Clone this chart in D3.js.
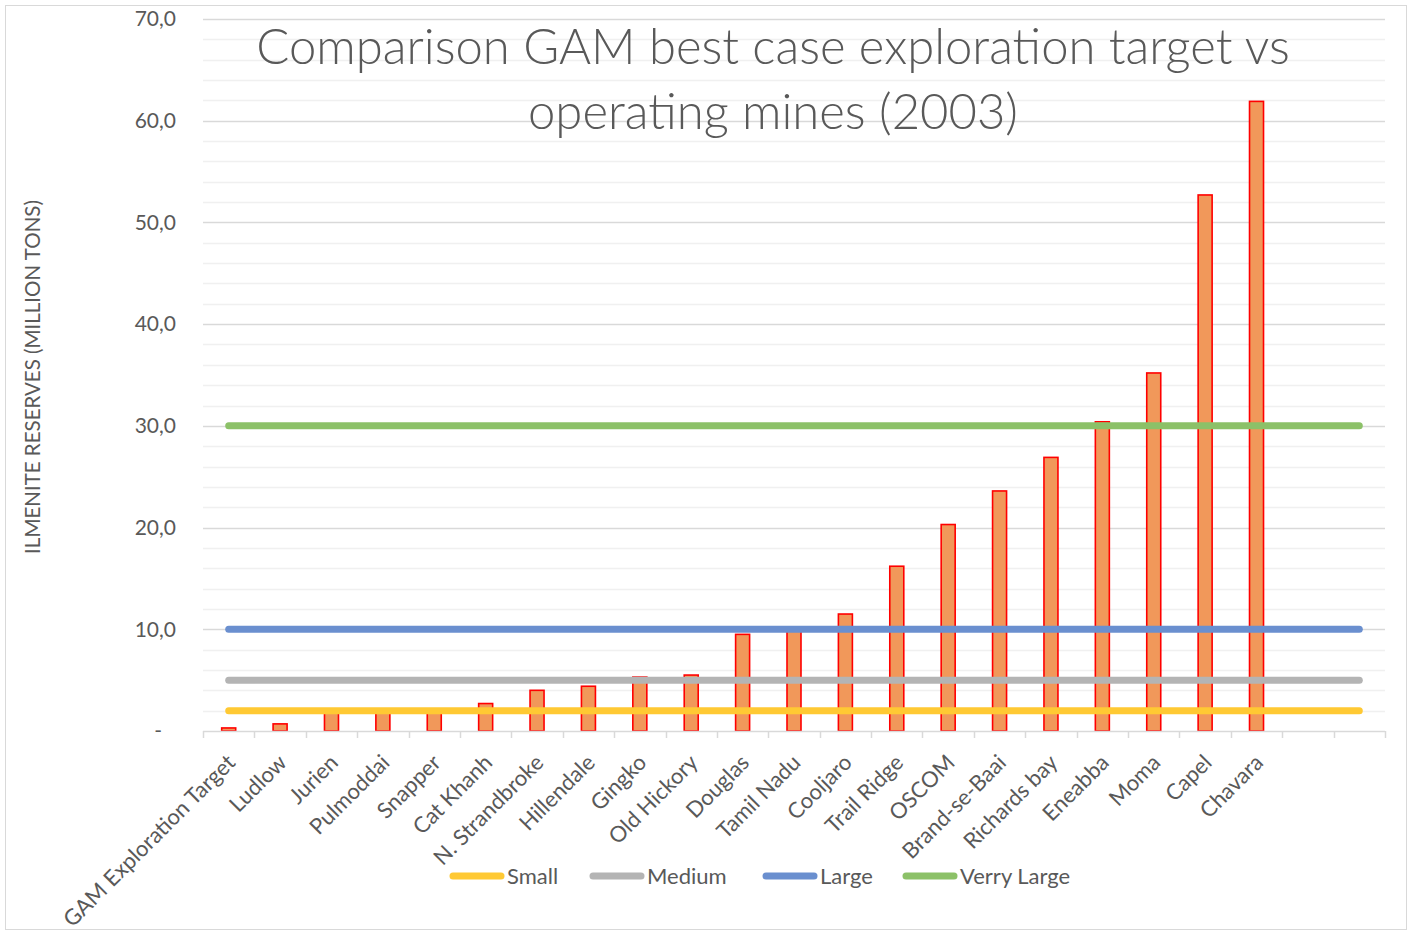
<!DOCTYPE html>
<html>
<head>
<meta charset="utf-8">
<script src="https://cdn.jsdelivr.net/npm/d3@7"></script>
<style>
  html, body { margin: 0; padding: 0; background: #fff; }
  svg { display: block; }
  text { font-family: Lato, "Open Sans", sans-serif; fill: #595959; }
</style>
</head>
<body>
<svg id="chart" width="1412" height="935"></svg>
<script>
// Mines, ordered by ilmenite reserves (million tons); two trailing empty slots
const categories = [
  "GAM Exploration Target", "Ludlow", "Jurien", "Pulmoddai", "Snapper",
  "Cat Khanh", "N. Strandbroke", "Hillendale", "Gingko", "Old Hickory",
  "Douglas", "Tamil Nadu", "Cooljaro", "Trail Ridge", "OSCOM",
  "Brand-se-Baai", "Richards bay", "Eneabba", "Moma", "Capel", "Chavara",
  "", ""
];
const reserves = [
  0.3, 0.7, 2.0, 2.0, 2.0,
  2.7, 4.0, 4.4, 5.3, 5.5,
  9.5, 10.0, 11.5, 16.2, 20.3,
  23.6, 26.9, 30.4, 35.2, 52.7, 61.9
];

// Size-class thresholds drawn as horizontal reference lines
const classNames  = ["Small", "Medium", "Large", "Verry Large"];
const classValues = [2, 5, 10, 30];
const classColors = ["#FFC933", "#B4B4B4", "#6A8FCF", "#8CC168"];

const yTicks = [0, 10, 20, 30, 40, 50, 60, 70];
const titleLines = ["Comparison GAM best case exploration target vs", "operating mines (2003)"];
const yAxisTitle = "ILMENITE RESERVES (MILLION TONS)";

const svg = d3.select("#chart");
const W = 1412, H = 935;

// outer chart frame
svg.append("rect")
  .attr("x", 5.5).attr("y", 5.5)
  .attr("width", W - 11).attr("height", H - 11)
  .attr("fill", "#fff").attr("stroke", "#D9D9D9").attr("stroke-width", 1);

const plot = { left: 203, right: 1385, top: 19, bottom: 731 };

const x = d3.scaleBand()
  .domain(d3.range(categories.length))
  .range([plot.left, plot.right])
  .padding(0);

const y = d3.scaleLinear()
  .domain([0, 70])
  .range([plot.bottom, plot.top]);

// gridlines: minor every 2, major every 10
const grid = svg.append("g");
d3.range(2, 71, 2).forEach(v => {
  const major = v % 10 === 0;
  grid.append("line")
    .attr("x1", plot.left).attr("x2", plot.right)
    .attr("y1", Math.round(y(v)) + 0.5).attr("y2", Math.round(y(v)) + 0.5)
    .attr("stroke", major ? "#D9D9D9" : "#F0F0F0")
    .attr("stroke-width", 1.3);
});

// y axis labels
const yAxis = d3.axisLeft(y)
  .tickValues(yTicks)
  .tickSize(0)
  .tickPadding(0)
  .tickFormat(d => d === 0 ? "-" : d3.format(".1f")(d).replace(".", ","));
const yg = svg.append("g")
  .attr("transform", `translate(${plot.left - 27},0)`)
  .call(yAxis);
yg.select(".domain").remove();
yg.selectAll("text")
  .attr("font-size", 21)
  .attr("fill", "#595959")
  .attr("font-family", "Lato, sans-serif")
  .attr("dy", "0.32em");
yg.selectAll(".tick").filter(d => d === 0).select("text").attr("dx", -14);

// y axis title
svg.append("text")
  .attr("transform", `translate(40,377) rotate(-90)`)
  .attr("text-anchor", "middle")
  .attr("font-size", 20.5)
  .text(yAxisTitle);

// bars
const barW = 14;
svg.append("g").selectAll("rect")
  .data(reserves)
  .join("rect")
  .attr("x", (d, i) => x(i) + (x.bandwidth() - barW) / 2)
  .attr("y", d => y(d))
  .attr("width", barW)
  .attr("height", d => y(0) - y(d))
  .attr("fill", "#F1985A")
  .attr("stroke", "#FF0000")
  .attr("stroke-width", 1.6);

// category axis
const xAxisG = svg.append("g");
xAxisG.append("line")
  .attr("x1", plot.left).attr("x2", plot.right)
  .attr("y1", plot.bottom + 0.5).attr("y2", plot.bottom + 0.5)
  .attr("stroke", "#D9D9D9").attr("stroke-width", 1.5);
d3.range(categories.length + 1).forEach(i => {
  const xp = Math.round(plot.left + i * x.step()) + 0.5;
  xAxisG.append("line")
    .attr("x1", xp).attr("x2", xp)
    .attr("y1", plot.bottom).attr("y2", plot.bottom + 7)
    .attr("stroke", "#D9D9D9").attr("stroke-width", 1.5);
});
xAxisG.selectAll("text.cat")
  .data(categories)
  .join("text")
  .attr("class", "cat")
  .attr("text-anchor", "end")
  .attr("font-size", 22)
  .attr("transform", (d, i) => `translate(${x(i) + x.bandwidth() / 2 + 8},${plot.bottom + 33}) rotate(-45)`)
  .text(d => d);

// size-class reference lines
const lineGen = d3.line().x(d => d[0]).y(d => d[1]);
const xFirst = x(0) + x.bandwidth() / 2;
const xLast = x(categories.length - 1) + x.bandwidth() / 2;
classValues.forEach((v, i) => {
  svg.append("path")
    .attr("d", lineGen([[xFirst, y(v)], [xLast, y(v)]]))
    .attr("stroke", classColors[i])
    .attr("stroke-width", 7)
    .attr("stroke-linecap", "round")
    .attr("fill", "none");
});

// title
const title = svg.append("text")
  .attr("text-anchor", "middle")
  .attr("font-size", 49)
  .attr("font-weight", 300);
titleLines.forEach((t, i) => {
  title.append("tspan")
    .attr("x", 773)
    .attr("y", 64 + i * 65)
    .text(t);
});

// legend
const legendX = [450, 590, 763, 903];
const legend = svg.append("g");
classNames.forEach((n, i) => {
  const lx = legendX[i];
  legend.append("line")
    .attr("x1", lx + 3).attr("x2", lx + 51)
    .attr("y1", 876).attr("y2", 876)
    .attr("stroke", classColors[i])
    .attr("stroke-width", 7)
    .attr("stroke-linecap", "round");
  legend.append("text")
    .attr("x", lx + 57)
    .attr("y", 876)
    .attr("dy", "0.35em")
    .attr("font-size", 22)
    .text(n);
});
</script>
</body>
</html>
